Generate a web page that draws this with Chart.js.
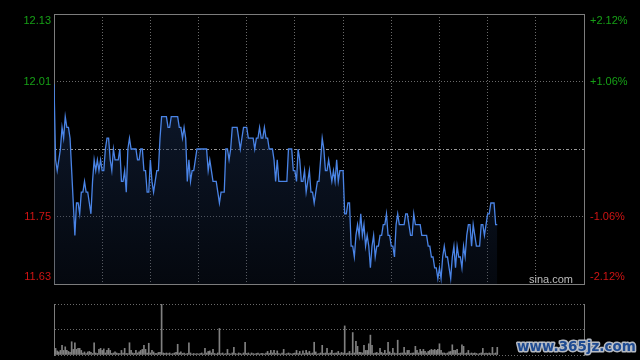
<!DOCTYPE html>
<html>
<head>
<meta charset="utf-8">
<title>分时图</title>
<script src="https://cdn.jsdelivr.net/npm/chart.js@4.4.1/dist/chart.umd.min.js"></script>
<style>
  html, body { margin: 0; padding: 0; background: #000; }
  #wrap { position: relative; width: 640px; height: 360px; overflow: hidden; background: #000; }
  #boxPrice { position: absolute; left: 0; top: 0; width: 640px; height: 300px; }
  #boxVolume { position: absolute; left: 0; top: 290px; width: 640px; height: 70px; }
</style>
</head>
<body>
<div id="wrap">
  <div id="boxPrice"><canvas id="graphPrice"></canvas></div>
  <div id="boxVolume"><canvas id="graphVolume"></canvas></div>
</div>
<script>
// Datos del grafico (minutos desde la apertura, 330 en total)
const totalMinutes = 330;
const timeGrid = [0, 30, 60, 90, 120, 150, 180, 210, 240, 270, 300, 330];
const prevClose = 11.88;
const priceTicks = [11.63, 11.755, 11.88, 12.005, 12.13];
const priceTickLabels = ['11.63', '11.75', '', '12.01', '12.13'];
const pctTickLabels = ['-2.12%', '-1.06%', '', '+1.06%', '+2.12%'];
const volumeTicks = [0, 50, 100];

const prices = [
  12.00, 11.86, 11.84, 11.86, 11.88, 11.92, 11.90, 11.94, 11.92, 11.92,
  11.90, 11.84, 11.78, 11.72, 11.78, 11.78, 11.76, 11.80, 11.80, 11.82,
  11.80, 11.80, 11.78, 11.76, 11.82, 11.86, 11.84, 11.86, 11.84, 11.86,
  11.84, 11.84, 11.88, 11.90, 11.90, 11.86, 11.84, 11.88, 11.86, 11.86,
  11.86, 11.88, 11.82, 11.82, 11.84, 11.80, 11.88, 11.90, 11.88, 11.88,
  11.88, 11.88, 11.86, 11.86, 11.88, 11.88, 11.84, 11.84, 11.80, 11.80,
  11.86, 11.82, 11.80, 11.82, 11.84, 11.84, 11.90, 11.94, 11.94, 11.94,
  11.94, 11.92, 11.92, 11.94, 11.94, 11.94, 11.94, 11.94, 11.92, 11.92,
  11.90, 11.92, 11.90, 11.82, 11.86, 11.82, 11.84, 11.84, 11.86, 11.88,
  11.88, 11.88, 11.88, 11.88, 11.88, 11.88, 11.84, 11.86, 11.84, 11.82,
  11.82, 11.82, 11.80, 11.78, 11.80, 11.80, 11.80, 11.88, 11.88, 11.86,
  11.88, 11.92, 11.92, 11.92, 11.92, 11.90, 11.88, 11.90, 11.92, 11.92,
  11.92, 11.90, 11.90, 11.90, 11.90, 11.88, 11.90, 11.90, 11.92, 11.90,
  11.90, 11.92, 11.90, 11.90, 11.88, 11.88, 11.88, 11.86, 11.82, 11.86,
  11.82, 11.82, 11.82, 11.82, 11.82, 11.82, 11.88, 11.88, 11.88, 11.84,
  11.84, 11.82, 11.88, 11.86, 11.82, 11.82, 11.84, 11.80, 11.82, 11.84,
  11.80, 11.80, 11.78, 11.80, 11.82, 11.82, 11.86, 11.90, 11.88, 11.84,
  11.84, 11.86, 11.84, 11.82, 11.84, 11.82, 11.86, 11.82, 11.84, 11.84,
  11.84, 11.76, 11.76, 11.78, 11.78, 11.70, 11.70, 11.68, 11.72, 11.74,
  11.72, 11.76, 11.72, 11.74, 11.70, 11.72, 11.70, 11.66, 11.70, 11.72,
  11.68, 11.70, 11.70, 11.72, 11.72, 11.74, 11.74, 11.76, 11.72, 11.72,
  11.70, 11.70, 11.68, 11.74, 11.76, 11.74, 11.74, 11.74, 11.74, 11.76,
  11.76, 11.74, 11.72, 11.72, 11.76, 11.74, 11.74, 11.74, 11.74, 11.72,
  11.72, 11.72, 11.72, 11.70, 11.70, 11.68, 11.68, 11.66, 11.66, 11.64,
  11.66, 11.64, 11.68, 11.70, 11.68, 11.68, 11.66, 11.64, 11.68, 11.70,
  11.66, 11.70, 11.68, 11.68, 11.66, 11.70, 11.68, 11.72, 11.74, 11.74,
  11.70, 11.74, 11.72, 11.70, 11.70, 11.70, 11.74, 11.74, 11.72, 11.74,
  11.76, 11.76, 11.78, 11.78, 11.78, 11.74, 11.74
];

const volumes = [
  26, 13, 8, 6, 9, 19, 9, 16, 9, 7,
  5, 26, 11, 24, 11, 13, 13, 9, 4, 6,
  3, 6, 7, 5, 3, 24, 4, 3, 11, 13,
  9, 12, 4, 9, 13, 9, 3, 4, 6, 4,
  3, 3, 9, 4, 13, 3, 3, 24, 9, 4,
  3, 9, 4, 6, 9, 11, 19, 11, 4, 23,
  4, 9, 6, 3, 3, 5, 5, 100, 4, 3,
  4, 3, 4, 2, 3, 4, 5, 21, 4, 6,
  3, 4, 2, 3, 24, 4, 2, 3, 2, 3,
  2, 3, 4, 2, 13, 4, 7, 8, 4, 11,
  3, 2, 4, 52, 3, 4, 2, 3, 11, 3,
  2, 4, 15, 3, 2, 4, 3, 2, 4, 25,
  3, 4, 2, 4, 3, 2, 3, 4, 2, 3,
  3, 2, 4, 7, 3, 9, 4, 9, 3, 8,
  3, 2, 4, 11, 2, 3, 4, 3, 2, 3,
  4, 9, 3, 7, 2, 8, 3, 9, 4, 7,
  3, 4, 25, 6, 2, 3, 4, 19, 3, 4,
  13, 3, 4, 9, 3, 4, 4, 7, 3, 5,
  4, 57, 3, 4, 7, 3, 44, 4, 27, 17,
  5, 5, 4, 19, 9, 9, 22, 39, 19, 3,
  4, 5, 3, 13, 5, 3, 9, 3, 25, 6,
  3, 13, 4, 3, 29, 3, 4, 4, 15, 4,
  9, 9, 3, 4, 4, 17, 9, 4, 11, 7,
  11, 7, 4, 7, 9, 11, 9, 11, 9, 11,
  22, 9, 4, 4, 3, 4, 6, 7, 20, 9,
  9, 11, 3, 4, 20, 17, 3, 4, 9, 3,
  4, 3, 4, 3, 2, 3, 4, 13, 3, 4,
  3, 4, 3, 15, 3, 4, 15
];

const minutes = prices.map((_, i) => i);

// Colores
const gridColor = '#6a6a6a';
const frameColor = '#7c7c7c';
const upColor = '#16a016';
const downColor = '#d01414';
const lineColor = '#4a84e6';

let chartPrice = null;
let chartVolume = null;

document.addEventListener('DOMContentLoaded', () => {
    Chart.defaults.font.family = '"Liberation Sans", Arial, sans-serif';
    Chart.defaults.font.size = 11;
    renderCharts();
});

// Color de las etiquetas segun este por encima o por debajo del cierre
function tickColor(index) {
    return index >= 3 ? upColor : downColor;
}

// Las etiquetas extremas se desplazan hacia dentro del grafico
function stackLabel(text, index) {
    if (index === 0) return [text, ''];
    if (index === priceTicks.length - 1) return ['', text];
    return text;
}

// Ancho fijo del eje y sin relleno extra arriba/abajo
function fixAxis(width) {
    return s => {
        s.width = width;
        s.paddingTop = 0;
        s.paddingBottom = 0;
    };
}

// Marco del grafico, linea del cierre anterior y texto sina.com
const framePlugin = {
    id: 'frame',
    beforeDatasetsDraw(chart) {
        const {ctx, chartArea} = chart;
        const y = Math.round(chart.scales.y.getPixelForValue(prevClose)) + 0.5;
        ctx.save();
        ctx.strokeStyle = '#9a9a9a';
        ctx.lineWidth = 1;
        ctx.setLineDash([3, 2, 1, 2]);
        ctx.beginPath();
        ctx.moveTo(chartArea.left, y);
        ctx.lineTo(chartArea.right, y);
        ctx.stroke();
        ctx.setLineDash([]);
        ctx.strokeStyle = frameColor;
        ctx.strokeRect(chartArea.left + 0.5, chartArea.top + 0.5, chartArea.width, chartArea.height);
        ctx.restore();
    },
    afterDatasetsDraw(chart) {
        const {ctx, chartArea} = chart;
        ctx.save();
        ctx.fillStyle = '#bdbdbd';
        ctx.font = '11px "Liberation Sans", Arial, sans-serif';
        ctx.textAlign = 'right';
        ctx.textBaseline = 'alphabetic';
        ctx.fillText('sina.com', chartArea.right - 11, chartArea.bottom - 1);
        ctx.restore();
    }
};

const markPlugin = {
    id: 'mark',
    afterDraw(chart) {
        const {ctx} = chart;
        ctx.save();
        ctx.font = 'bold 13.5px "DejaVu Sans", sans-serif';
        ctx.textAlign = 'left';
        ctx.lineJoin = 'round';
        ctx.lineWidth = 3;
        ctx.strokeStyle = 'rgba(200,205,215,0.9)';
        ctx.strokeText('www.365jz.com', 517, 61);
        ctx.fillStyle = '#1f4b92';
        ctx.fillText('www.365jz.com', 517, 61);
        ctx.restore();
    }
};

function areaGradient(context) {
    const {ctx, chartArea} = context.chart;
    if (!chartArea) return null;
    const g = ctx.createLinearGradient(0, chartArea.top, 0, chartArea.bottom);
    g.addColorStop(0, 'rgba(22,40,72,0.75)');
    g.addColorStop(1, 'rgba(22,40,72,0.2)');
    return g;
}

function renderCharts() {
    if (chartPrice) chartPrice.destroy();
    if (chartVolume) chartVolume.destroy();

    const ctxPrice = document.getElementById('graphPrice').getContext('2d');
    chartPrice = new Chart(ctxPrice, {
        type: 'line',
        data: {
            labels: minutes,
            datasets: [{
                data: prices,
                borderColor: lineColor,
                borderWidth: 1.3,
                pointRadius: 0,
                tension: 0,
                fill: 'start',
                backgroundColor: areaGradient,
                yAxisID: 'y'
            }]
        },
        options: {
            responsive: true,
            maintainAspectRatio: false,
            animation: false,
            layout: { padding: { top: 14, left: 0, right: 0, bottom: 0 } },
            plugins: { legend: { display: false }, tooltip: { enabled: false } },
            scales: {
                x: {
                    type: 'linear',
                    min: 0,
                    max: totalMinutes,
                    afterBuildTicks: s => { s.ticks = timeGrid.map(v => ({ value: v })); },
                    ticks: { display: false },
                    grid: { color: gridColor, drawTicks: false },
                    border: { display: false, dash: [1, 2] },
                    afterFit: s => { s.height = 16; }
                },
                y: {
                    position: 'left',
                    min: priceTicks[0],
                    max: priceTicks[priceTicks.length - 1],
                    afterBuildTicks: s => { s.ticks = priceTicks.map(v => ({ value: v })); },
                    ticks: {
                        padding: 3,
                        color: c => tickColor(c.index),
                        callback: (v, i) => stackLabel(priceTickLabels[i], i)
                    },
                    grid: { color: c => c.index === 2 ? 'rgba(0,0,0,0)' : gridColor, drawTicks: false },
                    border: { display: false, dash: [1, 2] },
                    afterFit: fixAxis(54)
                },
                y2: {
                    position: 'right',
                    min: priceTicks[0],
                    max: priceTicks[priceTicks.length - 1],
                    afterBuildTicks: s => { s.ticks = priceTicks.map(v => ({ value: v })); },
                    ticks: {
                        padding: 6,
                        color: c => tickColor(c.index),
                        callback: (v, i) => stackLabel(pctTickLabels[i], i)
                    },
                    grid: { display: false, drawTicks: false },
                    border: { display: false },
                    afterFit: fixAxis(56)
                }
            }
        },
        plugins: [framePlugin]
    });

    const ctxVolume = document.getElementById('graphVolume').getContext('2d');
    chartVolume = new Chart(ctxVolume, {
        type: 'bar',
        data: {
            labels: minutes,
            datasets: [{
                data: volumes,
                backgroundColor: '#808080',
                barThickness: 1
            }]
        },
        options: {
            responsive: true,
            maintainAspectRatio: false,
            animation: false,
            layout: { padding: { top: 14, left: 0, right: 0, bottom: 5 } },
            plugins: { legend: { display: false }, tooltip: { enabled: false } },
            scales: {
                x: {
                    type: 'linear',
                    min: 0,
                    max: totalMinutes,
                    offset: false,
                    display: false
                },
                y: {
                    position: 'left',
                    min: volumeTicks[0],
                    max: volumeTicks[volumeTicks.length - 1],
                    afterBuildTicks: s => { s.ticks = volumeTicks.map(v => ({ value: v })); },
                    ticks: { display: false },
                    grid: { color: gridColor, drawTicks: false },
                    border: { display: true, color: frameColor, dash: [1, 2] },
                    afterFit: fixAxis(54)
                },
                y2: {
                    position: 'right',
                    min: volumeTicks[0],
                    max: volumeTicks[volumeTicks.length - 1],
                    ticks: { display: false },
                    grid: { display: false, drawTicks: false },
                    border: { display: true, color: frameColor },
                    afterFit: fixAxis(56)
                }
            }
        },
        plugins: [markPlugin]
    });
}
</script>
</body>
</html>
